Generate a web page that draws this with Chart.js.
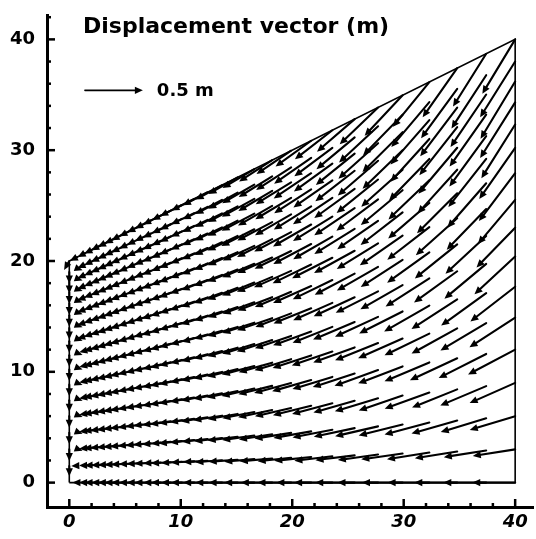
<!DOCTYPE html>
<html>
<head>
<meta charset="utf-8">
<script src="https://cdn.jsdelivr.net/npm/chart.js@4.4.0/dist/chart.umd.min.js"></script>
<style>
  html, body { margin: 0; padding: 0; background: #fff; }
  #vecChart { display: block; }
</style>
</head>
<body>
<canvas id="vecChart" width="536" height="539"></canvas>
<script>
// mesh columns (m) and top-boundary height at each column (m)
const colX = [0, 0.7, 1.4, 2.1, 2.8, 3.5, 4.2, 4.9, 5.7, 6.5, 7.3, 8.2, 9.1, 10.1, 11.2,
  12.4, 13.7, 15.1, 16.6, 18.2, 19.9, 21.7, 23.6, 25.6, 27.7, 29.9, 32.3, 34.8, 37.4, 40];
const colTop = [20, 20.35, 20.7, 21.05, 21.4, 21.75, 22.1, 22.45, 22.85, 23.25, 23.65, 24.1, 24.55, 25.05, 25.6,
  26.2, 26.85, 27.55, 28.3, 29.1, 29.95, 30.85, 31.8, 32.8, 33.85, 34.95, 36.15, 37.4, 38.7, 40];
// mesh rows as fraction of column height (bottom -> top)
const rowFrac = [0, 0.075, 0.15, 0.225, 0.30, 0.372, 0.442, 0.51, 0.575, 0.638, 0.698, 0.755, 0.808, 0.858, 0.905, 0.95, 1];

// displacement magnitude (m), one row per mesh row
const dispMag = [
  [0, .04, .05, .07, .08, .09, .10, .11, .12, .13, .14, .15, .17, .18, .20, .21, .23, .25, .26, .27, .29, .30, .33, .34, .35, .35, .36, .37, .37, .37],
  [.09, .05, .05, .07, .08, .09, .10, .11, .12, .13, .14, .15, .17, .18, .20, .21, .23, .25, .26, .28, .29, .32, .33, .34, .35, .36, .37, .37, .37, .37],
  [.10, .05, .05, .08, .09, .10, .11, .12, .13, .14, .15, .16, .17, .20, .21, .22, .24, .26, .28, .29, .32, .33, .35, .36, .38, .39, .40, .41, .41, .41],
  [.10, .05, .05, .08, .09, .10, .11, .12, .13, .14, .15, .16, .18, .20, .21, .23, .25, .26, .28, .30, .32, .34, .36, .37, .39, .40, .41, .42, .43, .43],
  [.10, .05, .05, .08, .09, .10, .11, .12, .13, .14, .15, .16, .18, .20, .21, .23, .25, .27, .29, .30, .33, .35, .36, .38, .40, .41, .42, .45, .46, .46],
  [.10, .05, .05, .08, .09, .10, .11, .12, .13, .14, .15, .16, .18, .20, .21, .23, .25, .27, .29, .30, .33, .35, .37, .38, .40, .42, .43, .45, .46, .47],
  [.10, .05, .05, .08, .09, .10, .11, .12, .13, .14, .15, .16, .18, .20, .21, .23, .25, .27, .29, .32, .33, .35, .37, .39, .41, .42, .45, .47, .48, .49],
  [.10, .05, .05, .08, .09, .10, .11, .12, .13, .14, .15, .16, .18, .20, .21, .23, .25, .27, .29, .32, .33, .35, .37, .39, .41, .42, .45, .46, .47, .48],
  [.10, .05, .05, .08, .09, .10, .11, .12, .13, .14, .15, .17, .18, .20, .22, .24, .25, .27, .29, .32, .34, .36, .38, .39, .41, .43, .45, .47, .48, .48],
  [.10, .05, .07, .08, .09, .10, .11, .12, .13, .14, .15, .17, .18, .20, .22, .24, .26, .28, .30, .33, .35, .37, .39, .40, .42, .45, .46, .48, .49, .50],
  [.10, .05, .07, .08, .09, .10, .11, .12, .13, .14, .15, .17, .18, .21, .22, .24, .26, .28, .30, .33, .35, .37, .39, .41, .43, .46, .47, .49, .51, .52],
  [.10, .05, .07, .08, .09, .10, .11, .12, .13, .14, .15, .17, .18, .21, .22, .24, .26, .28, .30, .34, .36, .38, .40, .42, .45, .47, .49, .51, .53, .54],
  [.10, .05, .07, .08, .09, .10, .11, .12, .13, .14, .15, .17, .18, .21, .22, .24, .26, .29, .32, .34, .36, .38, .41, .43, .46, .48, .50, .52, .54, .55],
  [.10, .05, .07, .08, .09, .10, .11, .12, .13, .14, .15, .17, .18, .21, .22, .24, .26, .29, .32, .34, .36, .38, .41, .43, .46, .48, .50, .53, .55, .57],
  [.10, .05, .07, .08, .09, .10, .11, .12, .13, .14, .15, .17, .18, .21, .22, .24, .26, .29, .32, .34, .36, .39, .41, .43, .46, .49, .51, .53, .55, .58],
  [.10, .05, .07, .08, .09, .10, .11, .12, .13, .14, .15, .17, .18, .21, .22, .24, .26, .29, .32, .34, .36, .39, .41, .43, .46, .49, .51, .53, .55, .57],
  [.09, .07, .07, .08, .09, .10, .11, .12, .13, .14, .15, .17, .18, .21, .22, .24, .26, .29, .32, .34, .36, .38, .41, .43, .46, .48, .50, .52, .54, .55]
];

// direction: degrees below the leftward horizontal (90 = straight down, >90 = turning right)
const dispDip = [
  [0, 0, 0, 0, 0, 0, 0, 0, 0, 0, 0, 0, 0, 0, 0, 0, 0, 0, 0, 0, 0, 0, 0, 0, 0, 0, 0, 0, 0, 0],
  [90, 2, 2, 2, 2, 2, 2, 2, 2, 2, 2, 2, 3, 3, 3, 3, 4, 4, 5, 5, 6, 6, 7, 7, 8, 8, 9, 9, 9, 9],
  [90, 160, 5, 5, 5, 5, 5, 5, 5, 5, 5, 6, 6, 6, 6, 6, 7, 7, 8, 9, 9, 10, 11, 12, 13, 14, 15, 16, 17, 17],
  [90, 160, 7, 7, 7, 7, 7, 7, 7, 7, 7, 8, 8, 8, 8, 9, 9, 10, 11, 12, 13, 14, 15, 16, 17, 19, 20, 22, 23, 24],
  [90, 160, 9, 9, 9, 9, 9, 9, 9, 9, 9, 10, 10, 10, 10, 11, 11, 12, 13, 14, 15, 16, 17, 18, 20, 21, 23, 25, 27, 28],
  [90, 160, 11, 11, 11, 11, 11, 11, 11, 11, 11, 12, 12, 12, 12, 13, 13, 14, 15, 16, 17, 18, 19, 20, 22, 24, 26, 29, 31, 33],
  [90, 160, 13, 13, 13, 13, 13, 13, 13, 13, 13, 14, 14, 14, 14, 15, 15, 16, 17, 18, 19, 20, 22, 23, 25, 27, 30, 33, 36, 38],
  [90, 160, 14, 14, 14, 14, 14, 14, 14, 14, 14, 15, 15, 15, 15, 16, 16, 17, 18, 19, 21, 22, 24, 25, 27, 30, 33, 36, 40, 43],
  [90, 160, 16, 16, 16, 16, 16, 16, 16, 16, 16, 17, 17, 17, 17, 18, 18, 19, 20, 21, 23, 24, 26, 28, 30, 33, 36, 39, 43, 46],
  [90, 160, 18, 18, 18, 18, 18, 18, 18, 18, 18, 19, 19, 19, 19, 20, 20, 21, 22, 23, 24, 26, 27, 29, 32, 35, 38, 42, 46, 50],
  [90, 160, 19, 19, 19, 19, 19, 19, 19, 19, 19, 20, 20, 20, 20, 21, 21, 22, 23, 24, 26, 28, 30, 32, 35, 38, 41, 45, 49, 53],
  [90, 160, 21, 21, 21, 21, 21, 21, 21, 21, 21, 22, 22, 22, 22, 23, 23, 24, 25, 27, 28, 30, 32, 34, 37, 40, 44, 48, 52, 55],
  [90, 160, 22, 22, 22, 22, 22, 22, 22, 22, 22, 23, 23, 23, 23, 24, 25, 26, 27, 28, 30, 32, 34, 36, 39, 42, 46, 50, 54, 58],
  [90, 160, 23, 23, 23, 23, 23, 23, 23, 23, 23, 24, 24, 24, 24, 25, 26, 27, 28, 30, 31, 33, 35, 38, 41, 44, 48, 52, 55, 58],
  [90, 160, 24, 24, 24, 24, 24, 24, 24, 24, 24, 25, 25, 25, 25, 26, 27, 28, 29, 31, 32, 34, 36, 39, 42, 45, 49, 53, 56, 59],
  [90, 160, 25, 25, 25, 25, 25, 25, 25, 25, 25, 26, 26, 26, 26, 27, 28, 29, 30, 32, 33, 35, 37, 40, 43, 46, 50, 54, 57, 58],
  [60, 27, 27, 27, 27, 27, 27, 27, 27, 27, 27, 27, 27, 27, 27, 28, 29, 30, 31, 33, 34, 36, 38, 41, 44, 47, 51, 55, 58, 59]
];

// domain outline
const outlineX = [0, 40, 40, 0, 0];
const outlineY = [0, 0, 40, 20, 0];

const xTicks = [0, 10, 20, 30, 40];
const yTicks = [0, 10, 20, 30, 40];

const VEC_SCALE = 10.4;     // plot units per metre of displacement
const LEGEND_M = 0.5;
const LEGEND_POS = { x: 1.4, y: 35.4 };
const HEAD_LEN = 8;
const HEAD_W = 3.6;

function drawArrow(ctx, x0, y0, x1, y1) {
  const dx = x1 - x0, dy = y1 - y0;
  const len = Math.hypot(dx, dy);
  if (len < 0.5) return;
  const ux = dx / len, uy = dy / len;
  ctx.beginPath();
  ctx.moveTo(x0, y0);
  ctx.lineTo(x1 - ux * HEAD_LEN * 0.6, y1 - uy * HEAD_LEN * 0.6);
  ctx.stroke();
  ctx.beginPath();
  ctx.moveTo(x1, y1);
  ctx.lineTo(x1 - ux * HEAD_LEN - uy * HEAD_W, y1 - uy * HEAD_LEN + ux * HEAD_W);
  ctx.lineTo(x1 - ux * HEAD_LEN + uy * HEAD_W, y1 - uy * HEAD_LEN - ux * HEAD_W);
  ctx.closePath();
  ctx.fill();
}

const vectorPlugin = {
  id: 'vectorField',
  afterDatasetsDraw(chart) {
    const { ctx, scales: { x, y } } = chart;
    ctx.save();
    ctx.strokeStyle = '#000';
    ctx.fillStyle = '#000';
    ctx.lineWidth = 2.1;
    ctx.lineCap = 'round';
    for (let j = 0; j < rowFrac.length; j++) {
      for (let i = 0; i < colX.length; i++) {
        const m = dispMag[j][i];
        if (!m) continue;
        const a = dispDip[j][i] * Math.PI / 180;
        const nx = colX[i];
        const ny = rowFrac[j] * colTop[i];
        const ex = nx - Math.cos(a) * m * VEC_SCALE;
        const ey = ny - Math.sin(a) * m * VEC_SCALE;
        drawArrow(ctx, x.getPixelForValue(nx), y.getPixelForValue(ny),
          x.getPixelForValue(ex), y.getPixelForValue(ey));
      }
    }

    // reference arrow
    const lx0 = x.getPixelForValue(LEGEND_POS.x);
    const lx1 = x.getPixelForValue(LEGEND_POS.x + LEGEND_M * VEC_SCALE);
    const ly = y.getPixelForValue(LEGEND_POS.y);
    ctx.lineWidth = 1.6;
    drawArrow(ctx, lx0, ly, lx1, ly);
    ctx.font = 'bold 18px "DejaVu Sans"';
    ctx.textBaseline = 'middle';
    ctx.textAlign = 'left';
    ctx.fillText(LEGEND_M + ' m', lx1 + 14, ly + 1);

    // title
    ctx.font = 'bold 22px "DejaVu Sans"';
    ctx.textBaseline = 'alphabetic';
    ctx.fillText('Displacement vector (m)', chart.chartArea.left + 36, 33);
    ctx.restore();
  },
  afterDraw(chart) {
    const { ctx, chartArea, scales: { x, y } } = chart;
    ctx.save();
    ctx.strokeStyle = '#000';
    ctx.lineWidth = 2.5;
    ctx.lineCap = 'butt';
    // major ticks every 10, minor every 2, pointing into the plot
    for (let v = 0; v <= 42; v += 2) {
      const major = v % 10 === 0;
      if (v <= 40) {
        const px = x.getPixelForValue(v);
        ctx.beginPath();
        ctx.moveTo(px, chartArea.bottom);
        ctx.lineTo(px, chartArea.bottom - (major ? 8 : 4));
        ctx.stroke();
      }
      const py = y.getPixelForValue(v);
      ctx.beginPath();
      ctx.moveTo(chartArea.left, py);
      ctx.lineTo(chartArea.left + (major ? 8 : 4), py);
      ctx.stroke();
    }
    ctx.restore();
  }
};

const ctx = document.getElementById('vecChart').getContext('2d');
new Chart(ctx, {
  type: 'scatter',
  data: {
    datasets: [{
      label: 'outline',
      data: outlineX.map((v, i) => ({ x: v, y: outlineY[i] })),
      showLine: true,
      borderColor: '#000',
      borderWidth: 1.6,
      pointRadius: 0,
      fill: false,
      tension: 0
    }]
  },
  options: {
    responsive: false,
    animation: false,
    devicePixelRatio: 1,
    layout: { padding: { top: 15, right: 3, left: 0, bottom: 0 } },
    plugins: { legend: { display: false }, tooltip: { enabled: false }, title: { display: false } },
    scales: {
      x: {
        type: 'linear',
        min: -2,
        max: 41.6,
        afterBuildTicks: s => { s.ticks = xTicks.map(v => ({ value: v })); },
        afterFit: s => { s.height = 32; s.paddingLeft = 0; s.paddingRight = 0; },
        grid: { display: false, drawTicks: false },
        border: { display: true, color: '#000', width: 3 },
        ticks: {
          color: '#000',
          padding: 5,
          maxRotation: 0,
          font: { family: 'DejaVu Sans', size: 18, weight: 'bold', style: 'italic' }
        }
      },
      y: {
        type: 'linear',
        min: -2.2,
        max: 42.2,
        afterBuildTicks: s => { s.ticks = yTicks.map(v => ({ value: v })); },
        afterFit: s => { s.width = 47; s.paddingTop = 0; s.paddingBottom = 0; },
        grid: { display: false, drawTicks: false },
        border: { display: true, color: '#000', width: 3 },
        ticks: {
          color: '#000',
          padding: 12,
          font: { family: 'DejaVu Sans', size: 18, weight: 'bold' }
        }
      }
    }
  },
  plugins: [vectorPlugin]
});
</script>
</body>
</html>
